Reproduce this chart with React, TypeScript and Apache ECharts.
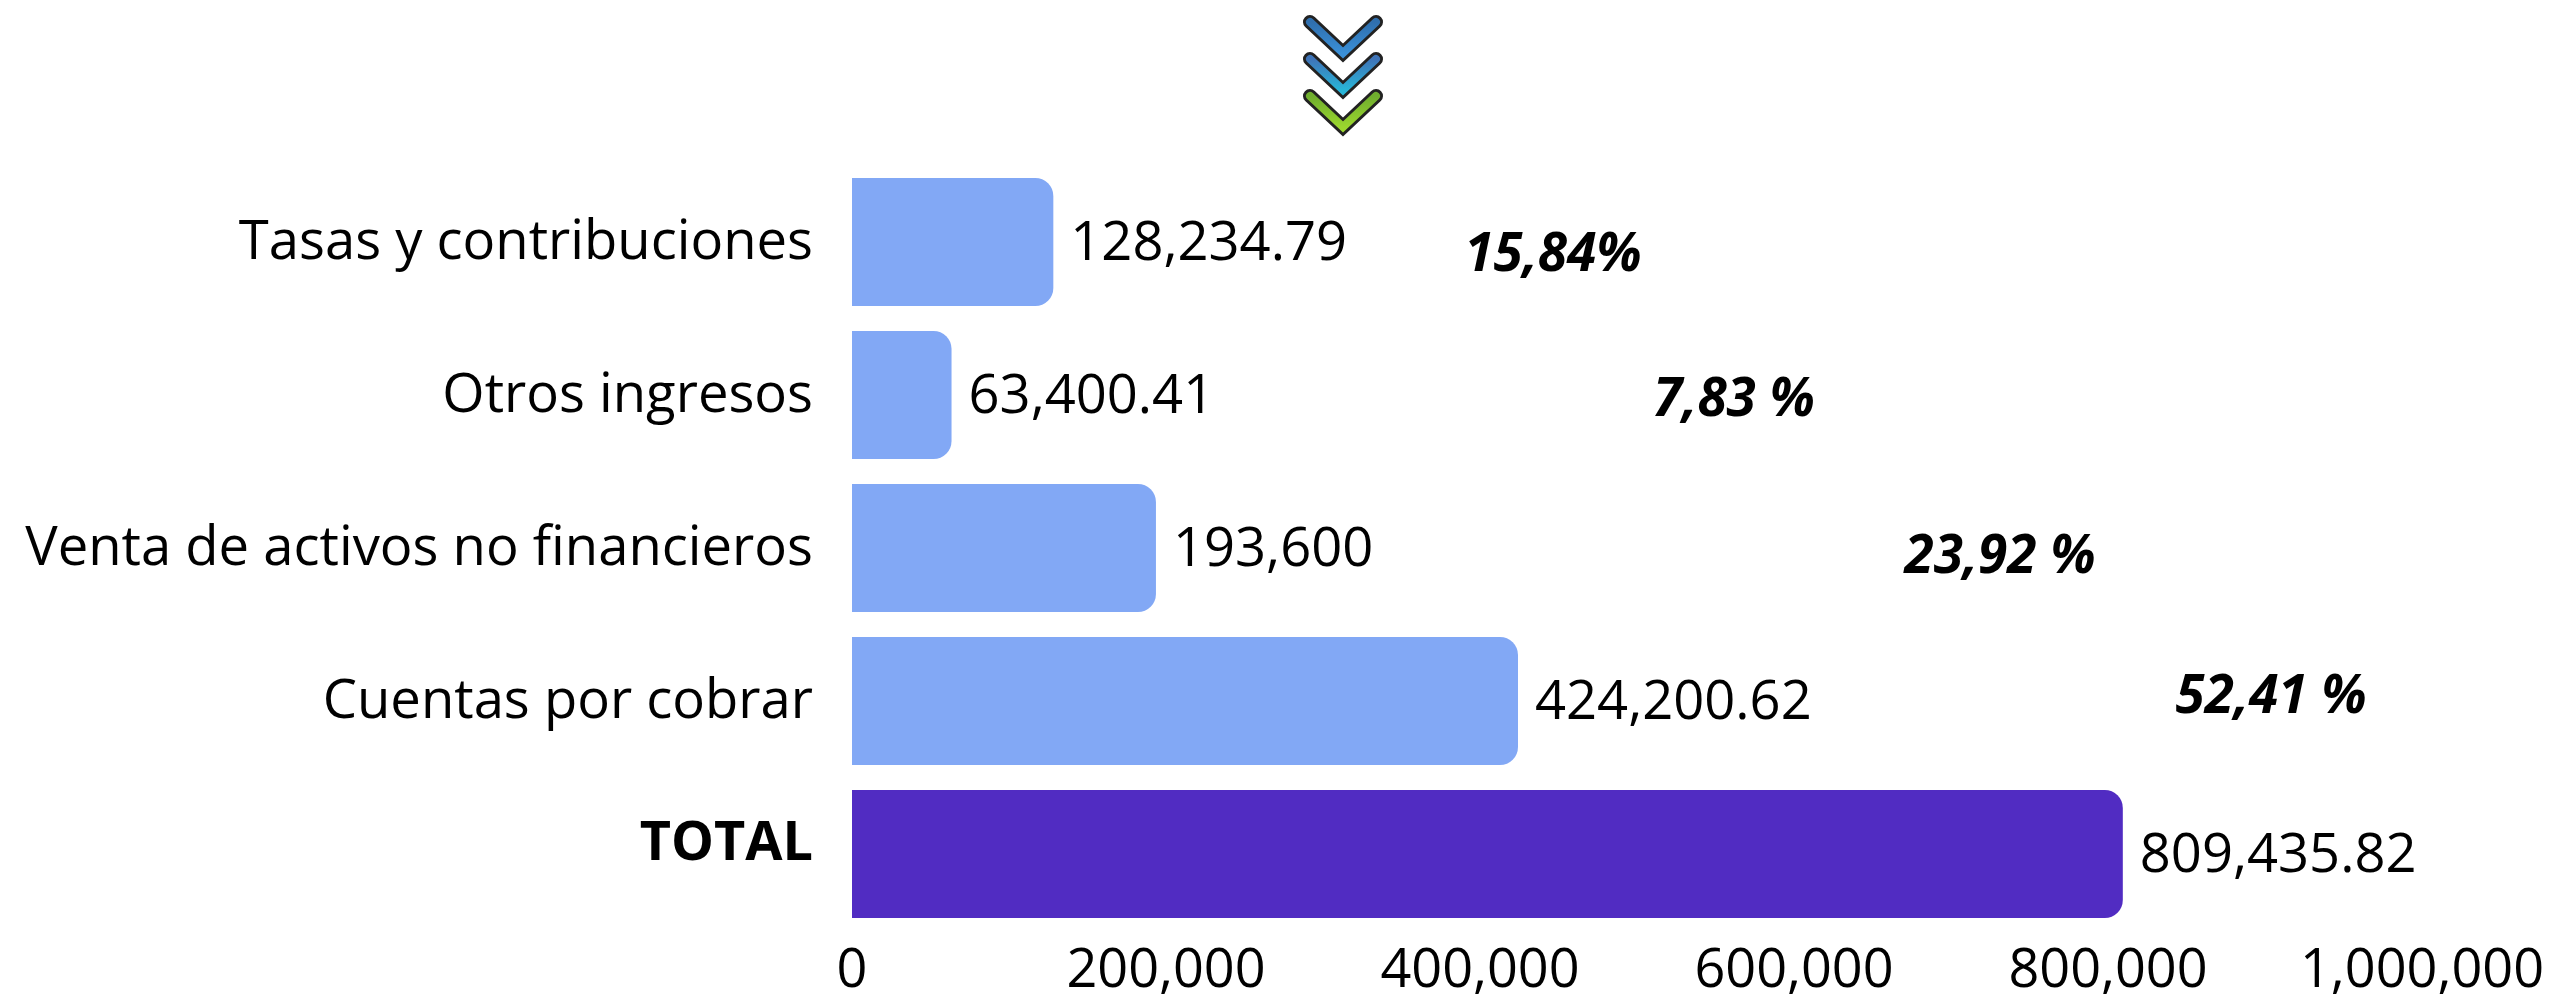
import React, { useEffect, useRef } from "react";
import * as echarts from "echarts";

const categories = ["TOTAL", "Cuentas por cobrar", "Venta de activos no financieros", "Otros ingresos", "Tasas y contribuciones"];
const values = [809435.82, 424200.62, 193600, 63400.41, 128234.79];
const valueLabels = ["809,435.82", "424,200.62", "193,600", "63,400.41", "128,234.79"];
const percentLabels = ["15,84%", "7,83 %", "23,92 %", "52,41 %"];
const percentX = [1553, 1734, 2000, 2271];
const percentY = [250, 395, 552, 692];
const chevronTop = ["#2f6fae", "#3f74b8", "#6fae2e"];
const chevronTip = ["#3a8fd6", "#28b5d8", "#9bd62e"];
const chevronY = [22, 59, 96];
const FONT = "Open Sans";

export default function App() {
  const ref = useRef<HTMLDivElement>(null);
  useEffect(() => {
    const chart = echarts.init(ref.current!, undefined, { renderer: "svg" });
    const chevrons: any[] = [];
    chevronY.forEach((y, i) => {
      const pts = [[1310, y], [1343, y + 31], [1376, y]];
      chevrons.push({
        type: "polyline",
        shape: { points: pts },
        style: { stroke: "#222", lineWidth: 14, fill: "none", lineCap: "round", lineJoin: "miter" },
      });
      chevrons.push({
        type: "polyline",
        shape: { points: pts },
        style: {
          stroke: new echarts.graphic.LinearGradient(0, 0, 0, 1, [
            { offset: 0, color: chevronTop[i] },
            { offset: 1, color: chevronTip[i] },
          ]),
          lineWidth: 8,
          fill: "none",
          lineCap: "round",
          lineJoin: "miter",
        },
      });
    });
    const percents = percentLabels.map((t, i) => ({
      type: "text",
      x: percentX[i],
      y: percentY[i],
      style: {
        text: t,
        fill: "#000",
        font: `italic 700 53px "${FONT}"`,
        textAlign: "center",
        textVerticalAlign: "middle",
      },
    }));
    chart.setOption({
      animation: false,
      backgroundColor: "#fff",
      grid: { left: 852, top: 165.5, width: 1570, height: 765, containLabel: false },
      xAxis: {
        type: "value",
        min: 0,
        max: 1000000,
        interval: 200000,
        splitLine: { show: false },
        axisLine: { show: false },
        axisTick: { show: false },
        axisLabel: {
          color: "#000",
          fontFamily: FONT,
          fontSize: 54,
          lineHeight: 54,
          margin: 8,
          formatter: (v: number) => v.toLocaleString("en-US"),
        },
      },
      yAxis: {
        type: "category",
        data: categories,
        axisLine: { show: false },
        axisTick: { show: false },
        axisLabel: {
          fontFamily: FONT,
          fontSize: 54.4,
          color: "#000",
          margin: 39,
          padding: [0, 0, 9, 0],
          formatter: (v: string) => (v === "TOTAL" ? `{b|${v}}` : v),
          rich: { b: { fontFamily: FONT, fontSize: 54, fontWeight: 700, color: "#000", padding: [0, 0, 22, 0] } },
        },
      },
      series: [
        {
          type: "bar",
          barWidth: 128,
          data: values.map((v, i) => ({
            value: v,
            itemStyle: { color: i === 0 ? "#512cc2" : "#82a8f5", borderRadius: [0, 18, 18, 0] },
            label: { formatter: valueLabels[i] },
          })),
          label: {
            show: true,
            position: "right",
            distance: 17,
            offset: [0, -3],
            color: "#000",
            fontFamily: FONT,
            fontSize: 54.3,
          },
        },
      ],
      graphic: [...chevrons, ...percents],
    });
    return () => chart.dispose();
  }, []);
  return <div ref={ref} style={{ position: "absolute", left: 0, top: 0, width: 2558, height: 995 }} />;
}
